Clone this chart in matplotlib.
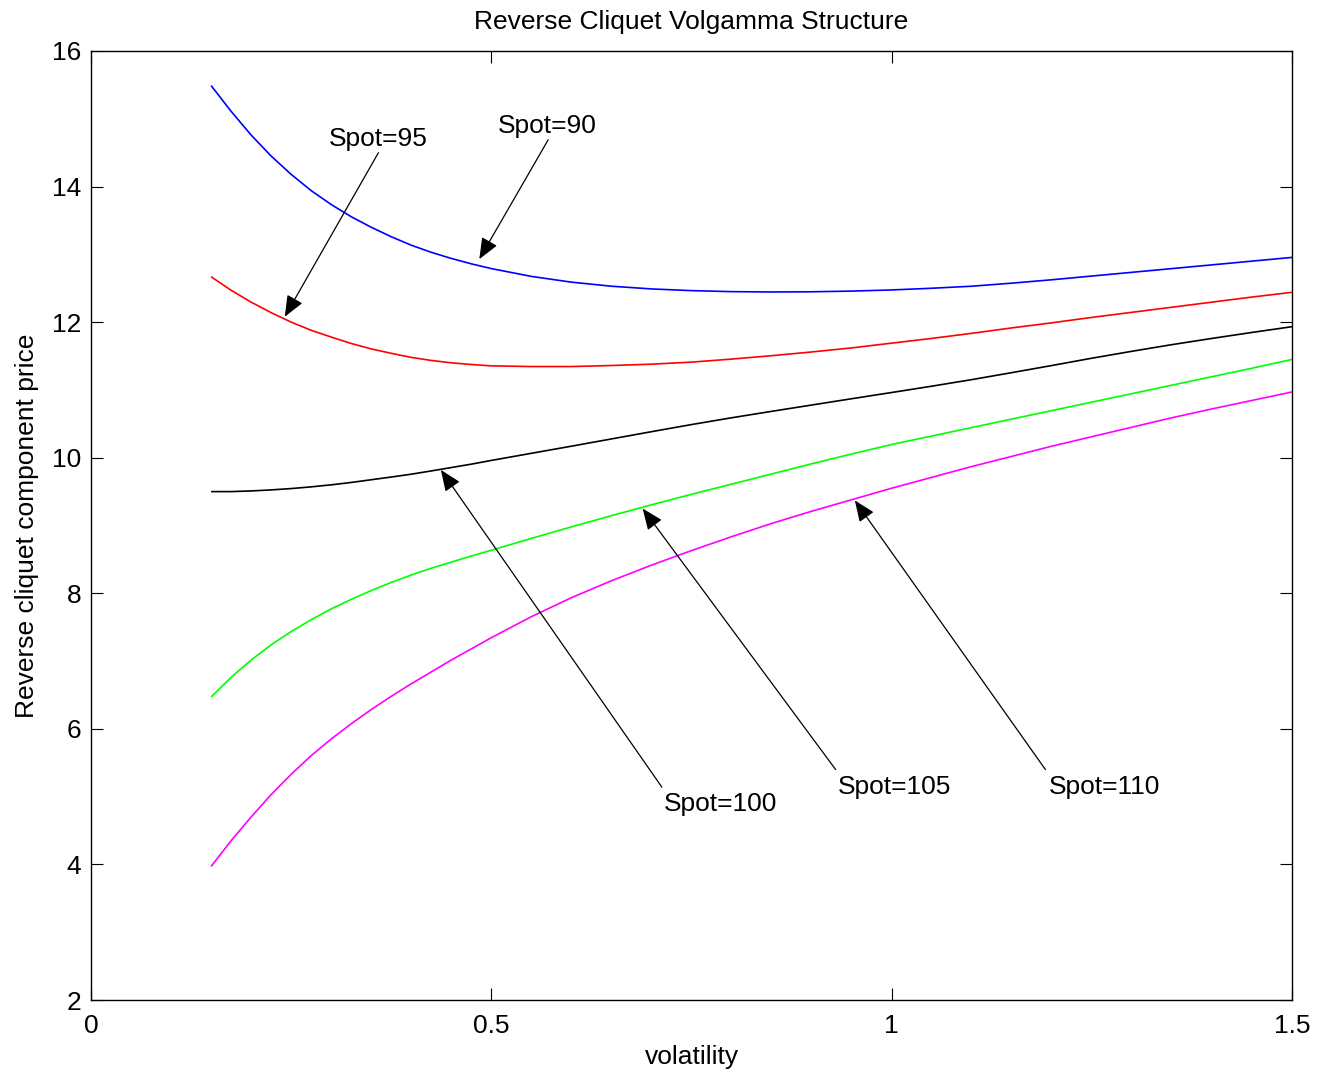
import matplotlib
matplotlib.use("Agg")
import matplotlib.pyplot as plt

plt.rcParams['font.family'] = ['Liberation Sans', 'DejaVu Sans']

# ---- data ----
vol = [0.15, 0.175, 0.2, 0.225, 0.25, 0.275, 0.3, 0.325, 0.35, 0.375,
       0.4, 0.425, 0.45, 0.475, 0.5,
       0.55, 0.6, 0.65, 0.7, 0.75, 0.8, 0.85, 0.9, 0.95, 1.0,
       1.05, 1.1, 1.15, 1.2, 1.25, 1.3, 1.35, 1.4, 1.45, 1.5]
spot90 = [15.49, 15.11, 14.76, 14.45, 14.18, 13.94, 13.735, 13.555, 13.40, 13.26,
          13.135, 13.03, 12.94, 12.86, 12.79,
          12.675, 12.59, 12.53, 12.49, 12.465, 12.45, 12.445, 12.448, 12.458, 12.475,
          12.50, 12.53, 12.575, 12.625, 12.68, 12.735, 12.79, 12.845, 12.90, 12.955]
spot95 = [12.67, 12.47, 12.295, 12.14, 12.00, 11.88, 11.78, 11.685, 11.605, 11.54,
          11.48, 11.435, 11.40, 11.375, 11.355,
          11.345, 11.345, 11.36, 11.38, 11.41, 11.455, 11.505, 11.56, 11.62, 11.69,
          11.76, 11.835, 11.915, 11.99, 12.07, 12.145, 12.22, 12.295, 12.37, 12.44]
spot100 = [9.50, 9.50, 9.51, 9.525, 9.545, 9.57, 9.60, 9.635, 9.675, 9.715,
           9.757, 9.805, 9.855, 9.905, 9.96,
           10.065, 10.17, 10.277, 10.384, 10.489, 10.589, 10.684, 10.777, 10.87, 10.962,
           11.055, 11.152, 11.255, 11.36, 11.468, 11.57, 11.668, 11.76, 11.848, 11.933]
spot105 = [6.47, 6.76, 7.015, 7.24, 7.435, 7.61, 7.77, 7.91, 8.04, 8.16,
           8.27, 8.37, 8.46, 8.55, 8.635,
           8.81, 8.98, 9.145, 9.305, 9.46, 9.61, 9.76, 9.91, 10.055, 10.195,
           10.32, 10.445, 10.57, 10.695, 10.82, 10.945, 11.07, 11.195, 11.32, 11.45]
spot110 = [3.97, 4.35, 4.70, 5.03, 5.33, 5.605, 5.85, 6.075, 6.285, 6.48,
           6.665, 6.84, 7.015, 7.18, 7.345,
           7.655, 7.935, 8.185, 8.415, 8.63, 8.835, 9.03, 9.21, 9.38, 9.55,
           9.71, 9.87, 10.02, 10.17, 10.31, 10.45, 10.59, 10.72, 10.845, 10.97]

series = [spot90, spot95, spot100, spot105, spot110]
labels = ['Spot=90', 'Spot=95', 'Spot=100', 'Spot=105', 'Spot=110']
colors = ['#0000ff', '#ff0000', '#000000', '#00ff00', '#ff00ff']

# annotation geometry (data coordinates): arrow tip, arrow tail, label anchor
arrow_tip = [(0.485, 12.93), (0.242, 12.08), (0.437, 9.82), (0.689, 9.25), (0.954, 9.37)]
arrow_tail = [(0.571, 14.69), (0.359, 14.50), (0.713, 5.14), (0.930, 5.40), (1.192, 5.40)]
label_pos = [(0.570, 14.79), (0.359, 14.60), (0.786, 4.79), (1.003, 5.04), (1.266, 5.04)]

xticks = [0, 0.5, 1, 1.5]
xticklabels = ['0', '0.5', '1', '1.5']
yticks = [2, 4, 6, 8, 10, 12, 14, 16]

FS = 19

fig = plt.figure(figsize=(13.32, 10.76), dpi=100)
ax = fig.add_axes([91/1332, 76/1076, 1201/1332, 949/1076])

for y, c in zip(series, colors):
    ax.plot(vol, y, color=c, lw=1.2, solid_capstyle='butt', solid_joinstyle='round')

for lab, tip, tail, pos in zip(labels, arrow_tip, arrow_tail, label_pos):
    ax.annotate('', xy=tip, xytext=tail,
                arrowprops=dict(arrowstyle='-|>,head_length=0.65,head_width=0.27',
                                color='black', lw=0.9, shrinkA=0, shrinkB=0,
                                mutation_scale=20))
    ax.text(pos[0], pos[1], lab, fontsize=FS, ha='center', va='baseline')

ax.set_xlim(0, 1.5)
ax.set_ylim(2, 16)
ax.set_xticks(xticks)
ax.set_xticklabels(xticklabels)
ax.set_yticks(yticks)
ax.tick_params(direction='in', length=8.5, width=0.8, top=True, right=True,
               labelsize=FS)
ax.tick_params(axis='x', pad=10)
ax.tick_params(axis='y', pad=7)
for s in ax.spines.values():
    s.set_linewidth(1.0)

ax.set_title('Reverse Cliquet Volgamma Structure', fontsize=FS, pad=16)
ax.set_xlabel('volatility', fontsize=FS)
ax.xaxis.set_label_coords(0.5, -0.047)
ax.xaxis.label.set_va('top')
ax.set_ylabel('Reverse cliquet component price', fontsize=FS)
ax.yaxis.set_label_coords(-0.0433, 0.5)

fig.savefig('out.png', dpi=100, facecolor='white')
